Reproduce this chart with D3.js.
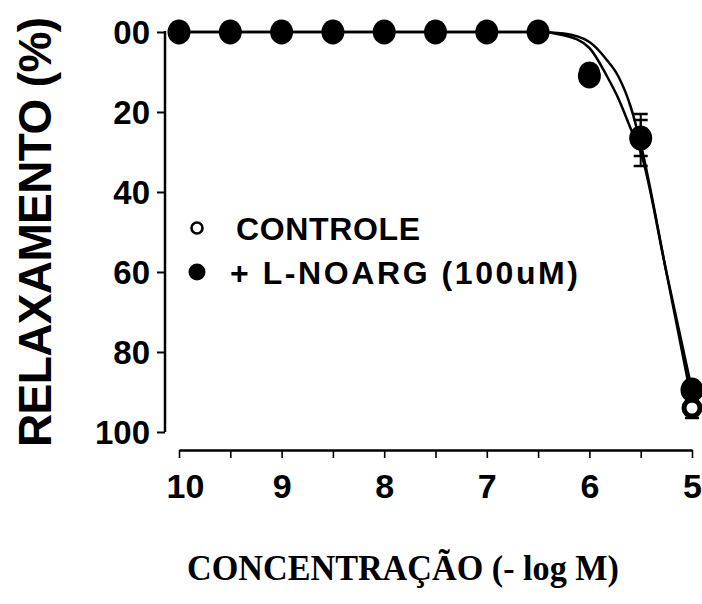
<!DOCTYPE html>
<html>
<head>
<meta charset="utf-8">
<script src="https://cdn.jsdelivr.net/npm/d3@7"></script>
<style>
  html, body { margin: 0; padding: 0; background: #fff; }
  svg { display: block; }
</style>
</head>
<body>
<div id="chart"></div>
<script>
// ---- data ----
const concentrations = [10, 9.5, 9, 8.5, 8, 7.5, 7, 6.5, 6, 5.5, 5];
const controle       = [0, 0, 0, 0, 0, 0, 0, 0, 10, 27, 94];
const controleErr    = [0, 0, 0, 0, 0, 0, 0, 0, 0, 6.5, 2.5];
const lnoarg         = [0, 0, 0, 0, 0, 0, 0, 0, 11, 26.5, 89.5];
const lnoargErr      = [0, 0, 0, 0, 0, 0, 0, 0, 0, 4.5, 0];

// fitted curves
const fitX        = [10, 6.5, 6.25, 6.0, 5.83, 5.72, 5.6, 5.5, 5.25, 5.0];
const fitControle = [0, 0, 0.4, 2.5, 7, 11, 18.5, 28, 60, 92.5];
const fitLnoarg   = [0, 0, 0.8, 4, 11, 16.5, 24, 30, 60, 89.5];

const xTicks = [10, 9.5, 9, 8.5, 8, 7.5, 7, 6.5, 6, 5.5, 5];
const xTickLabels = {10: "10", 9: "9", 8: "8", 7: "7", 6: "6", 5: "5"};
const yTicks = [0, 20, 40, 60, 80, 100];
const yTickLabels = ["00", "20", "40", "60", "80", "100"];

const legendLabels = ["CONTROLE", "+ L-NOARG (100uM)"];
const yTitle = "RELAXAMENTO (%)";
const xTitle = "CONCENTRAÇÃO (- log M)";

// ---- drawing ----
const W = 702, H = 604;
const svg = d3.select("#chart").append("svg").attr("width", W).attr("height", H)
  .style("background", "#fff");

const x = d3.scaleLinear().domain([10, 5]).range([179, 692]);
const y = d3.scaleLinear().domain([0, 100]).range([32, 432]);
const sans = "'Liberation Sans', Arial, Helvetica, sans-serif";

// Y axis
const yAxis = svg.append("g").attr("transform", "translate(165,0)")
  .call(d3.axisLeft(y).tickValues(yTicks).tickSize(8).tickSizeOuter(0)
    .tickFormat((d, i) => yTickLabels[i]));
yAxis.select(".domain").attr("stroke", "#000").attr("stroke-width", 2.5)
  .attr("d", `M0,${y(0) - 1}V${y(100)}`);
yAxis.selectAll(".tick line").attr("stroke", "#000").attr("stroke-width", 2);
yAxis.selectAll(".tick text").attr("font-family", sans).attr("font-weight", "bold")
  .attr("font-size", 33).attr("fill", "#000").attr("x", -15).attr("dy", "0.36em");

// X axis
const xAxis = svg.append("g").attr("transform", "translate(0,450)")
  .call(d3.axisBottom(x).tickValues(xTicks).tickSize(8).tickSizeOuter(0)
    .tickFormat(d => xTickLabels[d] || ""));
xAxis.select(".domain").attr("stroke", "#000").attr("stroke-width", 2.5);
xAxis.selectAll(".tick line").attr("stroke", "#000").attr("stroke-width", 1.6);
xAxis.selectAll(".tick text").attr("font-family", sans).attr("font-weight", "bold")
  .attr("font-size", 34).attr("fill", "#000").attr("y", 48).attr("dy", 0)
  .attr("dx", d => d === 10 ? 6 : 0);

// fitted curves
const line = d3.line().x(d => x(d[0])).y(d => y(d[1])).curve(d3.curveMonotoneX);
[fitControle, fitLnoarg].forEach(vals => {
  svg.append("path").datum(fitX.map((c, i) => [c, vals[i]]))
    .attr("d", line).attr("fill", "none").attr("stroke", "#000").attr("stroke-width", 2.5);
});

// error bars
function errorBars(vals, errs) {
  const g = svg.append("g");
  concentrations.forEach((c, i) => {
    if (!errs[i]) return;
    const cx = x(c);
    const y1 = y(vals[i] - errs[i]), y2 = y(vals[i] + errs[i]);
    g.append("line").attr("x1", cx).attr("x2", cx).attr("y1", y1).attr("y2", y2)
      .attr("stroke", "#000").attr("stroke-width", 2);
    [y1, y2].forEach(yy => g.append("line").attr("x1", cx - 7).attr("x2", cx + 7)
      .attr("y1", yy).attr("y2", yy).attr("stroke", "#000").attr("stroke-width", 2.5));
  });
}
errorBars(controle, controleErr);
errorBars(lnoarg, lnoargErr);

// markers
svg.append("g").selectAll("circle").data(concentrations.map((c, i) => [c, controle[i]]))
  .join("circle").attr("cx", d => x(d[0])).attr("cy", d => y(d[1])).attr("r", 8)
  .attr("fill", "#fff").attr("stroke", "#000").attr("stroke-width", 5);
svg.append("g").selectAll("ellipse").data(concentrations.map((c, i) => [c, lnoarg[i]]))
  .join("ellipse").attr("cx", d => x(d[0])).attr("cy", d => y(d[1]))
  .attr("rx", 11.5).attr("ry", 12.5).attr("fill", "#000");

// legend
svg.append("circle").attr("cx", 197).attr("cy", 228).attr("r", 5.5)
  .attr("fill", "#fff").attr("stroke", "#000").attr("stroke-width", 2.6);
svg.append("circle").attr("cx", 197).attr("cy", 272).attr("r", 8.5).attr("fill", "#000");
svg.append("text").attr("x", 236).attr("y", 240).text(legendLabels[0])
  .attr("font-family", sans).attr("font-weight", "bold").attr("font-size", 32)
  .attr("textLength", 184).attr("lengthAdjust", "spacing");
svg.append("text").attr("x", 230).attr("y", 284).text(legendLabels[1])
  .attr("font-family", sans).attr("font-weight", "bold").attr("font-size", 32)
  .attr("textLength", 348).attr("lengthAdjust", "spacing");

// axis titles
svg.append("text").attr("transform", "translate(51,232) rotate(-90)")
  .attr("text-anchor", "middle").text(yTitle)
  .attr("font-family", sans).attr("font-weight", "bold").attr("font-size", 46)
  .attr("textLength", 430).attr("lengthAdjust", "spacing");
svg.append("text").attr("x", 403).attr("y", 580).attr("text-anchor", "middle").text(xTitle)
  .attr("font-family", "'Liberation Serif', 'Times New Roman', serif").attr("font-weight", "bold")
  .attr("font-size", 35).attr("textLength", 432).attr("lengthAdjust", "spacingAndGlyphs");
</script>
</body>
</html>
